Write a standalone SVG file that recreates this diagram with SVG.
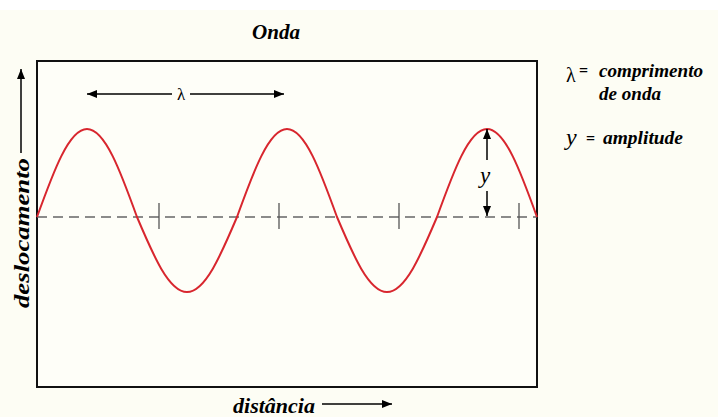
<svg xmlns="http://www.w3.org/2000/svg" width="718" height="417" viewBox="0 0 718 417">
  <defs>
    <marker id="ah" viewBox="0 0 10 8" refX="10" refY="4" markerWidth="10" markerHeight="8" markerUnits="userSpaceOnUse" orient="auto-start-reverse">
      <path d="M0,0 L10,4 L0,8 Z" fill="#000"/>
    </marker>
    <style>
      text { font-family: 'Liberation Serif', 'Times New Roman', 'DejaVu Serif', serif; fill: #000; }
      .bi { font-weight: bold; font-style: italic; }
      .it { font-style: italic; }
      .arr { stroke: #000; stroke-width: 1.5; fill: none; }
      .tick { stroke: #555; stroke-width: 1.3; }
    </style>
  </defs>
  <rect x="0" y="0" width="718" height="417" fill="#ffffff"/>
  <rect x="0" y="10" width="718" height="407" fill="#fdfdf4"/>

  <g id="title">
    <text class="bi" font-family="Liberation Serif, DejaVu Serif, serif" x="252" y="39" font-size="22" textLength="48" lengthAdjust="spacingAndGlyphs">Onda</text>
  </g>

  <g id="plot-box">
    <rect x="37" y="61" width="500" height="326" fill="#fefef8" stroke="#111" stroke-width="2"/>
  </g>

  <g id="baseline">
    <line x1="37" y1="217" x2="537" y2="217" stroke="#666" stroke-width="1.5" stroke-dasharray="10,6"/>
    <line class="tick" x1="159" y1="203" x2="159" y2="229"/>
    <line class="tick" x1="279" y1="203" x2="279" y2="229"/>
    <line class="tick" x1="399" y1="203" x2="399" y2="229"/>
    <line class="tick" x1="519" y1="203" x2="519" y2="229"/>
  </g>

  <g id="wave">
    <path d="M37,217 C53.3,171.9 68.9,129 87,129 C105.1,129 120.7,171.9 137,217 C153.3,255.4 168.9,292 187,292 C205.1,292 220.7,255.4 237,217 C253.3,171.9 268.9,129 287,129 C305.1,129 320.7,171.9 337,217 C353.3,255.4 368.9,292 387,292 C405.1,292 420.7,255.4 437,217 C453.3,171.9 468.9,129 487,129 C505.1,129 520.7,171.9 537,217" fill="none" stroke="#d8262e" stroke-width="2"/>
  </g>

  <g id="connectors">
    <line class="arr" x1="172" y1="94" x2="87" y2="94" marker-end="url(#ah)"/>
    <line class="arr" x1="190" y1="94" x2="284" y2="94" marker-end="url(#ah)"/>
    <line class="arr" x1="487" y1="160" x2="487" y2="129" marker-end="url(#ah)"/>
    <line class="arr" x1="487" y1="191" x2="487" y2="216" marker-end="url(#ah)"/>
    <line class="arr" x1="21" y1="153" x2="21" y2="69" marker-end="url(#ah)"/>
    <line class="arr" x1="322" y1="404" x2="392" y2="404" marker-end="url(#ah)"/>
  </g>

  <g id="lambda-label">
    <text x="181" y="100" font-size="17" text-anchor="middle">λ</text>
  </g>
  <g id="amplitude-label">
    <text class="it" x="485" y="183" font-size="23" text-anchor="middle">y</text>
  </g>

  <g id="y-axis-label">
    <text class="bi" transform="translate(29,233) rotate(-90)" x="0" y="0" font-size="21" text-anchor="middle" textLength="150" lengthAdjust="spacingAndGlyphs">deslocamento</text>
  </g>
  <g id="x-axis-label">
    <text class="bi" x="233" y="413" font-size="21" textLength="82" lengthAdjust="spacingAndGlyphs">distância</text>
  </g>

  <g id="legend">
    <text x="566" y="82" font-size="20">λ</text>
    <text x="579" y="76" font-size="16" font-weight="bold">=</text>
    <text class="bi" x="599" y="77" font-size="18" textLength="104" lengthAdjust="spacingAndGlyphs">comprimento</text>
    <text class="bi" x="599" y="100" font-size="18" textLength="62" lengthAdjust="spacingAndGlyphs">de onda</text>
    <text class="it" x="566" y="145" font-size="24">y</text>
    <text x="586" y="144" font-size="16" font-weight="bold">=</text>
    <text class="bi" x="603" y="144" font-size="18" textLength="80" lengthAdjust="spacingAndGlyphs">amplitude</text>
  </g>
</svg>
